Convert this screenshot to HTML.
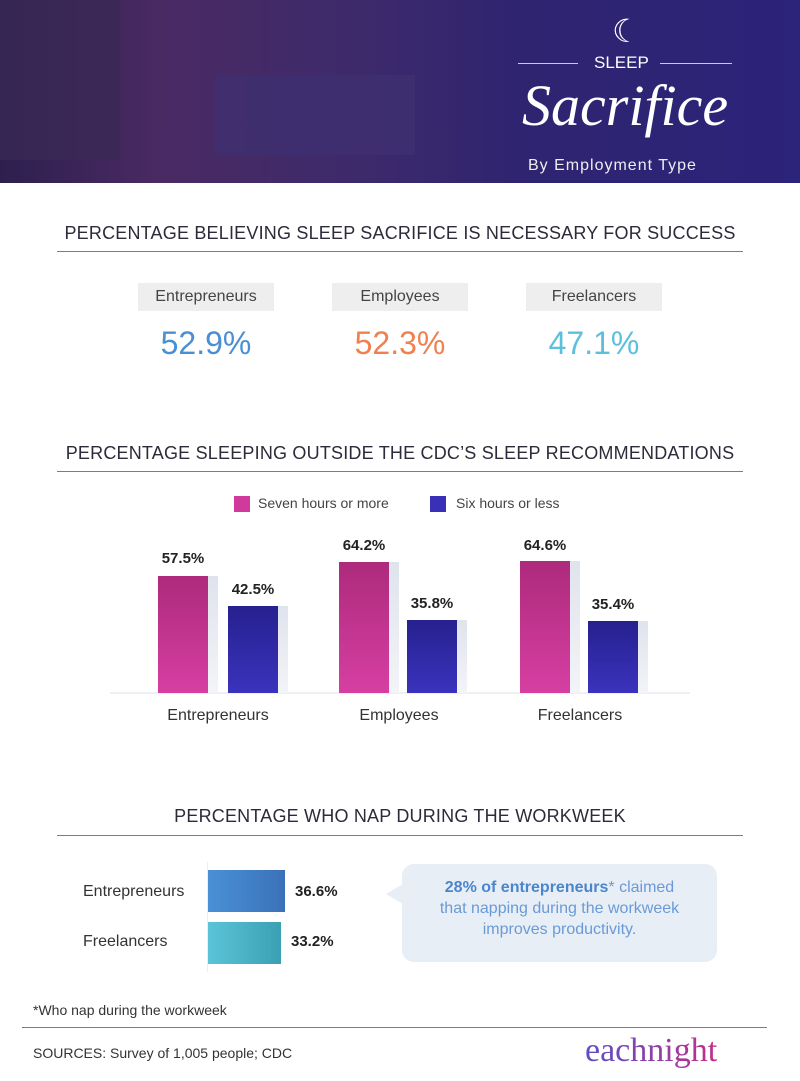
<!DOCTYPE html>
<html><head><meta charset="utf-8"><style>
*{margin:0;padding:0;box-sizing:border-box}
body{width:800px;height:1081px;background:#fff;position:relative;overflow:hidden;font-family:"Liberation Sans",sans-serif;color:#333}
.a{position:absolute}
.h{font-size:18px;letter-spacing:0.2px;color:#2b2b3a;text-align:center;width:800px;left:0}
.line{height:1px;background:#5b7fc8}
.pill{background:#eeeeee;font-size:16px;color:#444;text-align:center;line-height:28px;height:28px}
.big{font-size:32px;text-align:center}
.bar{position:absolute}
.sh{position:absolute;background:linear-gradient(#dfe3ec,#f3f4f8);width:10px}
.pk{background:linear-gradient(#ad2a7c,#d63fa2)}
.bl{background:linear-gradient(#26208f,#3a33bd)}
.v{position:absolute;font-size:15px;font-weight:bold;color:#222;width:80px;text-align:center}
.cat{position:absolute;font-size:16px;color:#333;width:180px;text-align:center;top:707px}
</style></head><body>
<div class="a" style="left:0;top:0;width:800px;height:183px;background:linear-gradient(90deg,#2d1f4e 0%,#4a2a63 20%,#3d2a6b 45%,#2f2470 65%,#2c237a 100%)"></div>
<div class="a" style="left:215px;top:75px;width:200px;height:80px;background:#3e3070;opacity:.8"></div>
<div class="a" style="left:0;top:0;width:120px;height:160px;background:#3a2a55;opacity:.7"></div>
<div class="a" style="left:612px;top:12px;color:#fff;font-size:32px">☾</div>
<div class="a" style="left:518px;top:63px;width:60px;height:1px;background:#ccc"></div>
<div class="a" style="left:660px;top:63px;width:72px;height:1px;background:#ccc"></div>
<div class="a" style="left:594px;top:53px;color:#fff;font-size:17px">SLEEP</div>
<div class="a" style="left:522px;top:72px;color:#fff;font-size:58px;font-style:italic;font-family:'Liberation Serif',serif">Sacrifice</div>
<div class="a" style="left:528px;top:157px;color:#eee;font-size:16px;letter-spacing:1px">By Employment Type</div>

<div class="a h" style="top:223px">PERCENTAGE BELIEVING SLEEP SACRIFICE IS NECESSARY FOR SUCCESS</div>
<div class="a line" style="left:57px;top:251px;width:686px"></div>
<div class="a pill" style="left:138px;top:283px;width:136px">Entrepreneurs</div>
<div class="a pill" style="left:332px;top:283px;width:136px">Employees</div>
<div class="a pill" style="left:526px;top:283px;width:136px">Freelancers</div>
<div class="a big" style="left:138px;top:325px;width:136px;color:#4a8fd4">52.9%</div>
<div class="a big" style="left:332px;top:325px;width:136px;color:#f08050">52.3%</div>
<div class="a big" style="left:526px;top:325px;width:136px;color:#5cc0dc">47.1%</div>

<div class="a h" style="top:443px">PERCENTAGE SLEEPING OUTSIDE THE CDC’S SLEEP RECOMMENDATIONS</div>
<div class="a line" style="left:57px;top:471px;width:686px"></div>
<div class="a" style="left:234px;top:496px;width:16px;height:16px;background:#d03a9c"></div>
<div class="a" style="left:258px;top:495px;font-size:14px;color:#444">Seven hours or more</div>
<div class="a" style="left:430px;top:496px;width:16px;height:16px;background:#3a30b8"></div>
<div class="a" style="left:456px;top:495px;font-size:14px;color:#444">Six hours or less</div>

<div class="a" style="left:110px;top:692px;width:580px;height:2px;background:#eef0f4"></div>
<div class="sh" style="left:208px;top:576px;height:117px"></div><div class="bar pk" style="left:158px;top:576px;width:50px;height:117px"></div>
<div class="sh" style="left:278px;top:606px;height:87px"></div><div class="bar bl" style="left:228px;top:606px;width:50px;height:87px"></div>
<div class="sh" style="left:389px;top:562px;height:131px"></div><div class="bar pk" style="left:339px;top:562px;width:50px;height:131px"></div>
<div class="sh" style="left:457px;top:620px;height:73px"></div><div class="bar bl" style="left:407px;top:620px;width:50px;height:73px"></div>
<div class="sh" style="left:570px;top:561px;height:132px"></div><div class="bar pk" style="left:520px;top:561px;width:50px;height:132px"></div>
<div class="sh" style="left:638px;top:621px;height:72px"></div><div class="bar bl" style="left:588px;top:621px;width:50px;height:72px"></div>
<div class="v" style="left:143px;top:550px">57.5%</div>
<div class="v" style="left:213px;top:581px">42.5%</div>
<div class="v" style="left:324px;top:537px">64.2%</div>
<div class="v" style="left:392px;top:595px">35.8%</div>
<div class="v" style="left:505px;top:537px">64.6%</div>
<div class="v" style="left:573px;top:596px">35.4%</div>
<div class="cat" style="left:128px">Entrepreneurs</div>
<div class="cat" style="left:309px">Employees</div>
<div class="cat" style="left:490px">Freelancers</div>

<div class="a h" style="top:806px">PERCENTAGE WHO NAP DURING THE WORKWEEK</div>
<div class="a line" style="left:57px;top:835px;width:686px"></div>
<div class="a" style="left:207px;top:862px;width:1px;height:110px;background:#eee"></div>
<div class="a" style="left:83px;top:883px;font-size:16px;color:#333">Entrepreneurs</div>
<div class="a" style="left:83px;top:933px;font-size:16px;color:#333">Freelancers</div>
<div class="bar" style="left:208px;top:870px;width:77px;height:42px;background:linear-gradient(90deg,#4a90d6,#3a72b8)"></div>
<div class="bar" style="left:208px;top:922px;width:73px;height:42px;background:linear-gradient(90deg,#5cc4d8,#3aa0b4)"></div>
<div class="a" style="left:295px;top:883px;font-size:15px;font-weight:bold;color:#222">36.6%</div>
<div class="a" style="left:291px;top:933px;font-size:15px;font-weight:bold;color:#222">33.2%</div>
<div class="a" style="left:402px;top:864px;width:315px;height:98px;background:#e8eef6;border-radius:12px"></div>
<div class="a" style="left:386px;top:884px;width:0;height:0;border-top:10px solid transparent;border-bottom:10px solid transparent;border-right:17px solid #e8eef6"></div>
<div class="a" style="left:402px;top:877px;width:315px;text-align:center;font-size:16px;line-height:21px;color:#6a9ad6"><b style="color:#4a86cc">28% of entrepreneurs</b>* claimed<br>that napping during the workweek<br>improves productivity.</div>

<div class="a" style="left:33px;top:1002px;font-size:14px;color:#333">*Who nap during the workweek</div>
<div class="a line" style="left:22px;top:1027px;width:745px"></div>
<div class="a" style="left:33px;top:1045px;font-size:14px;color:#333">SOURCES: Survey of 1,005 people; CDC</div>
<div class="a" style="left:585px;top:1032px;font-size:34px;font-family:'Liberation Serif',serif;background:linear-gradient(90deg,#5a4fc8,#c0308a);-webkit-background-clip:text;background-clip:text;color:transparent">eachnight</div>
</body></html>
